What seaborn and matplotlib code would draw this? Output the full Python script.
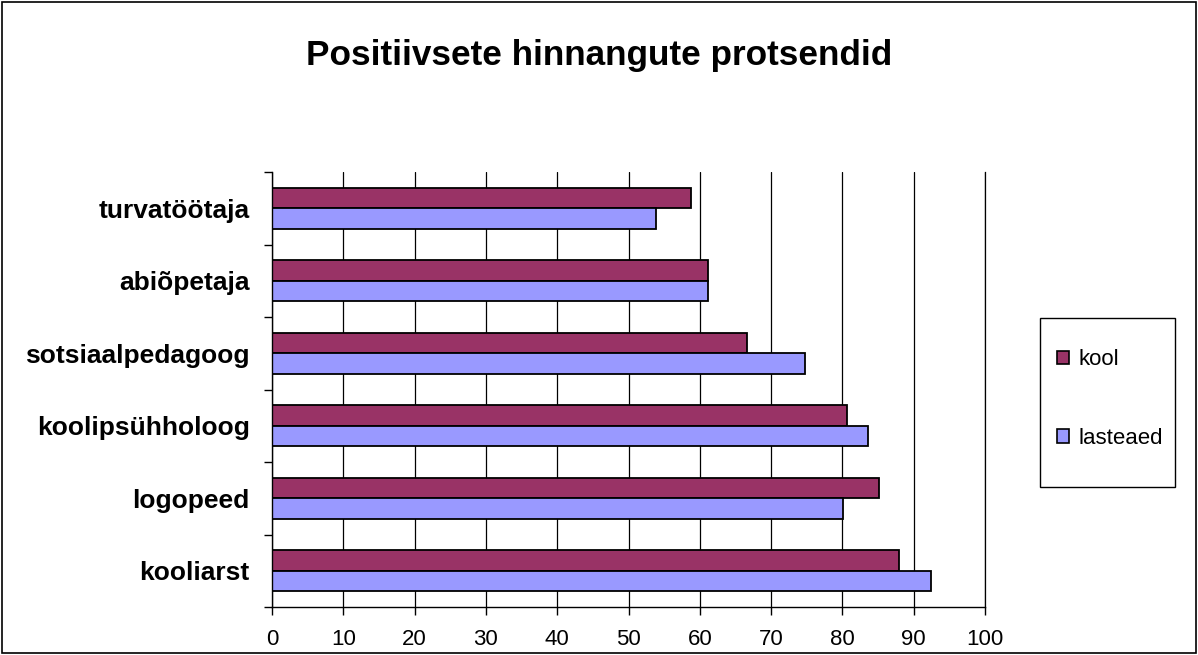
import matplotlib
matplotlib.use("Agg")
import matplotlib.pyplot as plt
import seaborn as sns
import pandas as pd
import numpy as np
from matplotlib.patches import Rectangle

# data
categories = ["turvatöötaja", "abiõpetaja", "sotsiaalpedagoog",
              "koolipsühholoog", "logopeed", "kooliarst"]
kool = [58.7, 61.2, 66.6, 80.6, 85.2, 88.0]
lasteaed = [53.8, 61.2, 74.8, 83.6, 80.1, 92.4]
series = ["kool", "lasteaed"]
colors = ["#993366", "#9999FF"]
xticks = list(range(0, 101, 10))

df = pd.DataFrame({
    "amet": categories * 2,
    "rühm": ["kool"] * len(categories) + ["lasteaed"] * len(categories),
    "protsent": kool + lasteaed,
})

sns.set_style("white")
plt.rcParams["font.family"] = ["Liberation Sans", "DejaVu Sans"]
plt.rcParams["text.color"] = "black"
plt.rcParams["xtick.color"] = "black"
plt.rcParams["ytick.color"] = "black"
plt.rcParams["axes.labelcolor"] = "black"

W, H = 1198, 655
fig = plt.figure(figsize=(W / 100, H / 100), dpi=100)
ax = fig.add_axes([272 / W, 1 - 607 / H, (985 - 272) / W, (607 - 172) / H])

sns.barplot(data=df, y="amet", x="protsent", hue="rühm", order=categories,
            hue_order=series, palette=colors, orient="h", width=0.565,
            edgecolor="black", linewidth=1.3, saturation=1, ax=ax, legend=False)

ax.set_xlim(0, 100)
ax.set_ylim(len(categories) - 0.5, -0.5)
ax.set_xticks(xticks)
ax.set_xticklabels([str(t) for t in xticks], fontsize=16)
ax.tick_params(axis="x", bottom=True, length=6, width=1, direction="out", pad=10)
ax.tick_params(axis="y", which="major", left=True, length=0, pad=16)
for lab in ax.get_yticklabels():
    lab.set_fontweight("bold")
    lab.set_fontsize(19)
ax.set_yticks(np.arange(-0.5, len(categories), 1), minor=True)
ax.tick_params(axis="y", which="minor", left=True, length=6, width=1, direction="out")
ax.set_xlabel("")
ax.set_ylabel("")
ax.grid(axis="x", color="black", linewidth=0.9)
ax.set_axisbelow(True)
ax.spines["top"].set_visible(False)
for side in ["left", "bottom", "right"]:
    ax.spines[side].set_color("black")
    ax.spines[side].set_linewidth(1)
ax.spines["right"].set_linewidth(0.9)

fig.text(0.5, 1 - 56 / H, "Positiivsete hinnangute protsendid", fontsize=25.3,
         fontweight="bold", ha="center", va="center")

# legend entries, box drawn separately
handles = [Rectangle((0, 0), 1, 1, facecolor=c, edgecolor="black", linewidth=1.2) for c in colors]
fig.legend(handles, series, loc="center", bbox_to_anchor=(1110 / W, 1 - 399 / H),
           frameon=False, fontsize=16, handlelength=0.55, handleheight=0.55,
           handletextpad=0.4, labelspacing=2.6, borderaxespad=0)
fig.patches.append(Rectangle((1040 / W, 1 - 487 / H), 135 / W, 169 / H,
                             transform=fig.transFigure, fill=False,
                             edgecolor="black", linewidth=1))

# outer border of the chart area
fig.patches.append(Rectangle((2 / W, 2 / H), 1 - 4 / W, 1 - 4 / H,
                             transform=fig.transFigure, fill=False,
                             edgecolor="black", linewidth=1.2))

fig.savefig("out.png", dpi=100)
